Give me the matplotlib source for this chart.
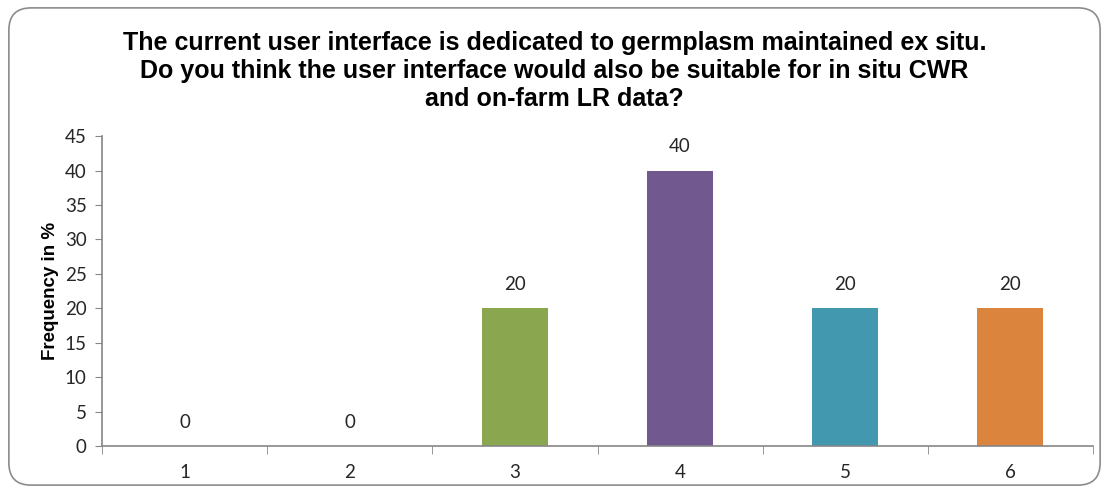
import matplotlib
matplotlib.use("Agg")
import matplotlib.pyplot as plt
from matplotlib.patches import FancyBboxPatch
import numpy as np

categories = ["1", "2", "3", "4", "5", "6"]
values = [0, 0, 20, 40, 20, 20]
colors = ["#4F81BD", "#C0504D", "#8AA64E", "#71588F", "#4198AF", "#DB843D"]
yticks = [0, 5, 10, 15, 20, 25, 30, 35, 40, 45]
title = ("The current user interface is dedicated to germplasm maintained ex situ.\n"
         "Do you think the user interface would also be suitable for in situ CWR\n"
         "and on-farm LR data?")
ylabel = "Frequency in %"

fig = plt.figure(figsize=(11.09, 4.93), dpi=100)
border = FancyBboxPatch((0.008, 0.016), 0.984, 0.968, boxstyle="round,pad=0,rounding_size=0.02",
                        transform=fig.transFigure, facecolor="none", edgecolor="#8C8C8C",
                        linewidth=1.2, mutation_aspect=1109/493, zorder=-1)
fig.patches.append(border)

ax = fig.add_axes([0.092, 0.0953, 0.8936, 0.6287])
x = np.arange(len(categories))
ax.bar(x, values, width=0.4, color=colors, zorder=2)
for xi, v in zip(x, values):
    ax.annotate(str(v), (xi, v), xytext=(0, 11), textcoords="offset points",
                ha="center", va="bottom", fontsize=13.5, family="Lato", color="#262626")

ax.set_xlim(-0.5, len(categories) - 0.5)
ax.set_ylim(0, 45)
ax.set_yticks(yticks)
ax.set_yticklabels([str(t) for t in yticks], family="Lato", fontsize=13.5, color="#262626")
ax.set_xticks(x)
ax.set_xticklabels(categories, family="Lato", fontsize=13.5, color="#262626")
ax.set_xticks(np.arange(-0.5, len(categories)), minor=True)
ax.tick_params(axis="x", which="major", length=0, pad=13)
ax.tick_params(axis="x", which="minor", length=6, color="#868686", direction="out")
ax.tick_params(axis="y", length=5, color="#868686", direction="out", pad=6)
for s in ["top", "right"]:
    ax.spines[s].set_visible(False)
for s in ["left", "bottom"]:
    ax.spines[s].set_color("#868686")
    ax.spines[s].set_linewidth(1.2)
ax.set_facecolor("none")

ax.set_ylabel(ylabel, family="Liberation Sans", fontweight="bold", fontsize=13.5, labelpad=4)
fig.text(0.5, 0.937, title, ha="center", va="top", family="Liberation Sans",
         fontweight="bold", fontsize=18, linespacing=1.2)

fig.savefig("out.png", dpi=100)
